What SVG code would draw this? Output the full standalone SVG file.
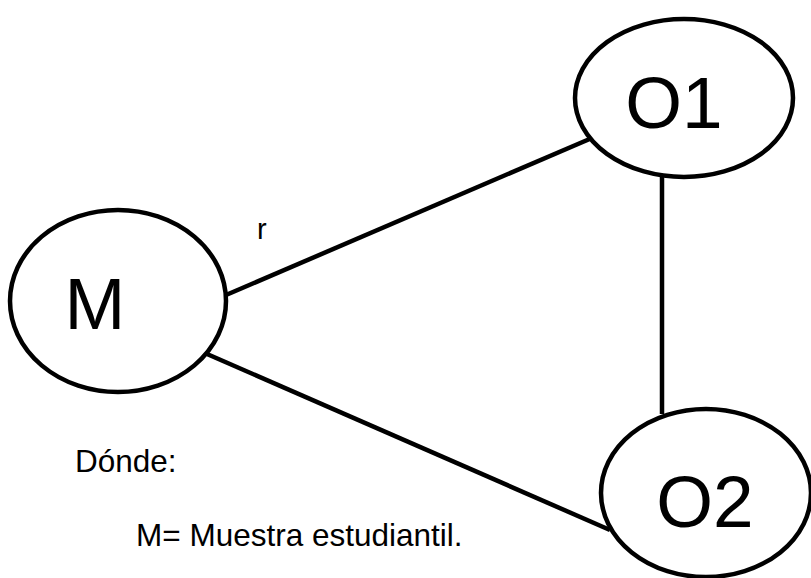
<svg xmlns="http://www.w3.org/2000/svg" width="811" height="578" viewBox="0 0 811 578">
<style>
.n{fill:#fff;stroke:#000;stroke-width:4.5}
.c line{stroke:#000;stroke-width:4.5}
.big{font-family:"Liberation Sans",Arial,sans-serif;font-size:73px;fill:#000;text-anchor:middle}
.t{font-family:"Liberation Sans",Arial,sans-serif;font-size:31.5px;fill:#000}
</style>
<rect width="811" height="578" fill="#fff"/>
<g id="connectors" class="c">
<line x1="226" y1="295" x2="592" y2="138"/>
<line x1="207" y1="354" x2="610" y2="530"/>
<line x1="662" y1="175" x2="662" y2="414"/>
</g>
<g id="M">
<ellipse class="n" cx="118" cy="301" rx="108" ry="91"/>
<text class="big" x="95" y="329">M</text>
</g>
<g id="O1">
<ellipse class="n" cx="684" cy="98" rx="109" ry="79"/>
<text class="big" x="674" y="128">O1</text>
</g>
<g id="O2">
<ellipse class="n" cx="706" cy="493" rx="105" ry="84"/>
<text class="big" x="705" y="527">O2</text>
</g>
<text class="t" x="257" y="239" style="font-size:29px">r</text>
<text class="t" x="75" y="472">Dónde:</text>
<text class="t" x="136" y="546">M= Muestra estudiantil.</text>
</svg>
